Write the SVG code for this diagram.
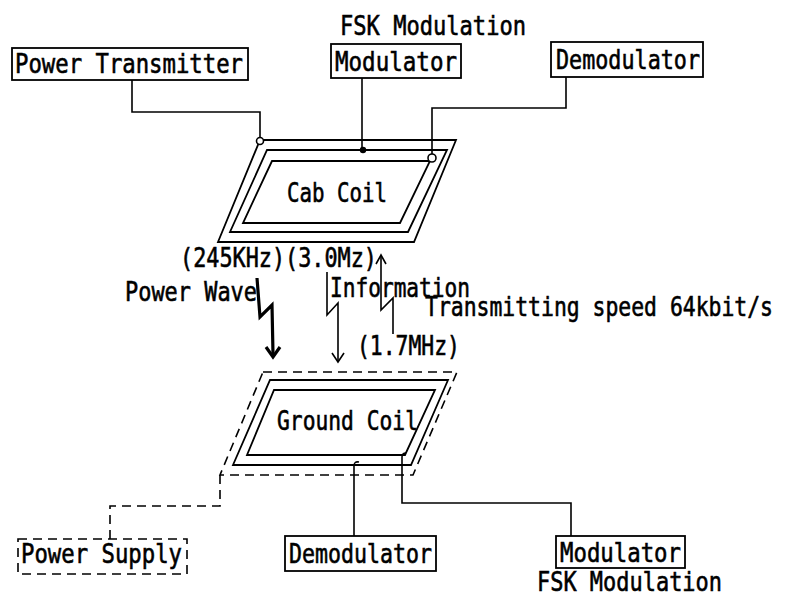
<svg xmlns="http://www.w3.org/2000/svg" width="788" height="593" viewBox="0 0 788 593">
<style>
.box{fill:none;stroke:#000;stroke-width:1.8}
.dbox{fill:none;stroke:#000;stroke-width:1.6;stroke-dasharray:9,6}
.ln{fill:none;stroke:#000;stroke-width:1.6}
.dln{fill:none;stroke:#000;stroke-width:1.6;stroke-dasharray:9,6}
.coil{fill:none;stroke:#000;stroke-width:1.8}
.t{font-family:'DejaVu Sans Mono','Liberation Mono',monospace;font-size:27px;fill:#000;stroke:#000;stroke-width:0.6}
</style>
<rect width="788" height="593" fill="#fff"/>
<text class="t" x="340" y="35" textLength="186" lengthAdjust="spacingAndGlyphs">FSK Modulation</text>
<g id="power-transmitter"><rect class="box" x="12" y="48" width="236" height="32"/><text class="t" x="15" y="73" textLength="228" lengthAdjust="spacingAndGlyphs">Power Transmitter</text></g>
<g id="modulator-top"><rect class="box" x="331" y="44" width="130" height="34"/><text class="t" x="335" y="71" textLength="122" lengthAdjust="spacingAndGlyphs">Modulator</text></g>
<g id="demodulator-top"><rect class="box" x="551" y="42" width="152" height="35"/><text class="t" x="556" y="69" textLength="144" lengthAdjust="spacingAndGlyphs">Demodulator</text></g>
<g id="cab-coil">
<polygon class="coil" points="260,140 456,140 414,242 218,242"/>
<polygon class="coil" points="267,150 447,150 408,232 230,232"/>
<polygon class="coil" points="272,161 430,161 400,223 243,223"/>
<text class="t" x="287" y="202" textLength="100" lengthAdjust="spacingAndGlyphs">Cab Coil</text>
</g>
<g id="ground-coil">
<polygon class="dbox" points="263,372 457,372 413,475 220,475"/>
<polygon class="coil" points="270,380 448,380 411,465 233,465"/>
<polygon class="coil" points="274,390 435,390 405,455 247,455"/>
<text class="t" x="277" y="430" textLength="141" lengthAdjust="spacingAndGlyphs">Ground Coil</text>
</g>
<g id="power-supply"><rect class="dbox" x="18" y="539" width="169" height="35"/><text class="t" x="21" y="563" textLength="161" lengthAdjust="spacingAndGlyphs">Power Supply</text></g>
<g id="demodulator-bottom"><rect class="box" x="285" y="536" width="151" height="35"/><text class="t" x="289" y="563" textLength="143" lengthAdjust="spacingAndGlyphs">Demodulator</text></g>
<g id="modulator-bottom"><rect class="box" x="556" y="536" width="129" height="32"/><text class="t" x="560" y="562" textLength="121" lengthAdjust="spacingAndGlyphs">Modulator</text></g>
<text class="t" x="537" y="591" textLength="185" lengthAdjust="spacingAndGlyphs">FSK Modulation</text>
<g id="labels">
<text class="t" x="180" y="267" textLength="197" lengthAdjust="spacingAndGlyphs">(245KHz)(3.0Mz)</text>
<text class="t" x="125" y="301" textLength="132" lengthAdjust="spacingAndGlyphs">Power Wave</text>
<text class="t" x="330" y="297" textLength="140" lengthAdjust="spacingAndGlyphs">Information</text>
<text class="t" x="425" y="316" textLength="348" lengthAdjust="spacingAndGlyphs">Transmitting speed 64kbit/s</text>
<text class="t" x="357" y="355" textLength="103" lengthAdjust="spacingAndGlyphs">(1.7MHz)</text>
</g>
<g id="connectors">
<path class="ln" d="M132,80 V112 H260 V137"/>
<circle cx="260" cy="141" r="3.5" fill="#fff" stroke="#000" stroke-width="1.6"/>
<path class="ln" d="M362,78 V150"/>
<circle cx="363" cy="150" r="3.2" fill="#000"/>
<path class="ln" d="M566,77 V108 H432 V154"/>
<circle cx="432" cy="158" r="4" fill="#fff" stroke="#000" stroke-width="1.6"/>
<path class="ln" d="M354,536 V466 Q354,461 359,462"/>
<path class="ln" d="M402,457 Q402,453 406,453 M402,457 V503 H571 V536"/>
<path class="dln" d="M220,475 V506 H110 V539"/>
<path fill="none" stroke="#000" stroke-width="3.2" d="M257,278 L260,317 L272,305 L273,354"/>
<path fill="none" stroke="#000" stroke-width="3.2" d="M266,347 L273,357 L280,347"/>
<path class="ln" d="M327,272 V315 L338,303 V361"/>
<path class="ln" d="M332,353 L338,362 L344,353"/>
<path class="ln" d="M393,334 V298 L381,310 V256"/>
<path class="ln" d="M376,264 L381,255 L386,264"/>
</g>
</svg>
